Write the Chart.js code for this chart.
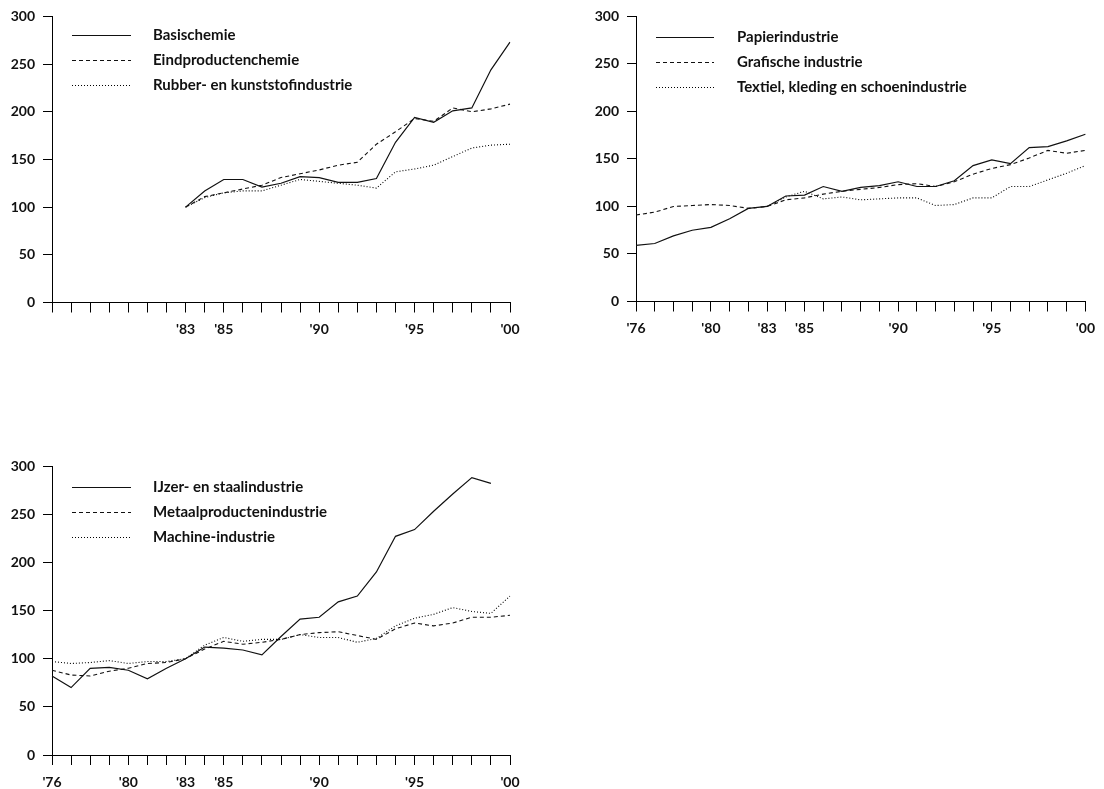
<!DOCTYPE html>
<html>
<head>
<meta charset="utf-8">
<script src="https://cdn.jsdelivr.net/npm/chart.js@4/dist/chart.umd.min.js"></script>
<style>
  html, body { margin: 0; padding: 0; background: #fff; }
  body { width: 1104px; height: 789px; position: relative; overflow: hidden; }
  canvas { position: absolute; }
</style>
</head>
<body>
<canvas id="chem" width="552" height="345" style="left:0;top:0"></canvas>
<canvas id="papier" width="544" height="345" style="left:560px;top:0"></canvas>
<canvas id="metaal" width="552" height="359" style="left:0;top:430px"></canvas>
<script>
// Index, 1983 = 100
const years = ["'76","'77","'78","'79","'80","'81","'82","'83","'84","'85","'86","'87","'88",
               "'89","'90","'91","'92","'93","'94","'95","'96","'97","'98","'99","'00"];
const labeledYearsChem = ["'83","'85","'90","'95","'00"];
const labeledYears = ["'76","'80","'83","'85","'90","'95","'00"];
const yTicks = [0, 50, 100, 150, 200, 250, 300];

// Chemie
const basischemie = [null,null,null,null,null,null,null,100,117,129,129,121,125,132,131,126,126,130,168,194,189,201,204,244,273];
const eindproductenchemie = [null,null,null,null,null,null,null,100,111,115,119,123,131,135,139,144,147,166,179,193,190,204,200,203,208];
const rubberKunststof = [null,null,null,null,null,null,null,100,110,115,117,117,123,129,127,125,123,120,137,140,144,153,162,165,166];

// Papier, grafisch, textiel
const papierindustrie = [59,61,69,75,78,87,98,100,111,112,121,116,120,122,126,121,121,127,143,149,145,162,163,169,176];
const grafischeIndustrie = [91,94,100,101,102,101,98,100,107,109,113,116,118,120,123,124,121,126,134,140,144,151,159,156,159];
const textielKleding = [null,null,null,null,null,null,null,100,110,116,108,110,107,108,109,109,101,102,109,109,121,121,128,135,143];

// Metaal
const ijzerStaal = [82,70,90,91,88,79,90,100,112,111,109,104,123,141,143,159,165,190,227,234,253,271,288,282,null];
const metaalproducten = [88,83,82,87,90,95,96,100,110,118,115,117,120,125,127,128,124,120,131,137,134,137,143,143,145];
const machineIndustrie = [97,95,96,98,95,97,97,100,114,122,118,120,120,125,122,122,117,121,134,142,146,153,149,147,165];

const INK = '#111';
const FONT = 'Lato, "Open Sans", sans-serif';

const lineStyles = [
  { borderDash: [], borderWidth: 1.2, borderColor: '#111' },
  { borderDash: [4, 3], borderWidth: 1.1, borderColor: '#111' },
  { borderDash: [1, 2], borderWidth: 1.1, borderColor: '#000' }
];

function series(labels, arrays) {
  return arrays.map((arr, i) => Object.assign({
    label: labels[i],
    data: arr,
    pointRadius: 0,
    pointHoverRadius: 0,
    tension: 0,
    fill: false
  }, lineStyles[i]));
}

// Legend drawn inside the plot: line sample + bold label per series
const insideLegend = {
  id: 'insideLegend',
  afterDatasetsDraw(chart, args, opts) {
    const ctx = chart.ctx;
    ctx.save();
    ctx.font = 'bold 15px ' + FONT;
    ctx.textBaseline = 'middle';
    ctx.textAlign = 'left';
    chart.data.datasets.forEach((ds, i) => {
      const y = Math.round(opts.y + i * opts.gap) + 0.5;
      ctx.beginPath();
      ctx.setLineDash(ds.borderDash || []);
      ctx.lineWidth = 1;
      ctx.strokeStyle = ds.borderColor;
      ctx.moveTo(opts.x, y);
      ctx.lineTo(opts.x + opts.len, y);
      ctx.stroke();
      ctx.setLineDash([]);
      ctx.fillStyle = INK;
      ctx.fillText(ds.label, opts.textX, y);
    });
    ctx.restore();
  }
};

function makeChart(id, datasets, shown, yWidth, xHeight, padding, legend) {
  return new Chart(document.getElementById(id), {
    type: 'line',
    data: { labels: years, datasets: datasets },
    options: {
      responsive: false,
      animation: false,
      events: [],
      layout: { padding: padding },
      plugins: {
        legend: { display: false },
        tooltip: { enabled: false },
        insideLegend: legend
      },
      scales: {
        x: {
          type: 'category',
          offset: false,
          grid: { display: true, drawOnChartArea: false, drawTicks: true, tickLength: 10, color: '#000', lineWidth: 1 },
          border: { display: true, color: '#000', width: 1 },
          ticks: {
            autoSkip: false, maxRotation: 0, minRotation: 0, padding: 9, color: INK,
            font: { family: FONT, weight: 'bold', size: 14 },
            callback(value) {
              const l = this.getLabelForValue(value);
              return shown.includes(l) ? l : '';
            }
          },
          afterFit(scale) { scale.height = xHeight; }
        },
        y: {
          min: 0, max: 300,
          afterBuildTicks(scale) { scale.ticks = yTicks.map(v => ({ value: v })); },
          grid: { display: true, drawOnChartArea: false, drawTicks: true, tickLength: 9, color: '#000', lineWidth: 1 },
          border: { display: true, color: '#000', width: 1 },
          ticks: { padding: 8, color: INK, font: { family: FONT, weight: 'bold', size: 14 } },
          afterFit(scale) { scale.width = yWidth; }
        }
      }
    },
    plugins: [insideLegend]
  });
}

makeChart('chem',
  series(['Basischemie', 'Eindproductenchemie', 'Rubber- en kunststofindustrie'],
         [basischemie, eindproductenchemie, rubberKunststof]),
  labeledYearsChem, 52, 36,
  { left: 0, top: 14, right: 42, bottom: 6.5 },
  { x: 72, len: 59, textX: 153, y: 35, gap: 25 });

makeChart('papier',
  series(['Papierindustrie', 'Grafische industrie', 'Textiel, kleding en schoenindustrie'],
         [papierindustrie, grafischeIndustrie, textielKleding]),
  labeledYears, 76, 36,
  { left: 0, top: 14, right: 13, bottom: 7.5 },
  { x: 96, len: 58, textX: 177, y: 37, gap: 25 });

makeChart('metaal',
  series(['IJzer- en staalindustrie', 'Metaalproductenindustrie', 'Machine-industrie'],
         [ijzerStaal, metaalproducten, machineIndustrie]),
  labeledYears, 52, 34,
  { left: 0, top: 36, right: 42, bottom: 0 },
  { x: 72, len: 59, textX: 153, y: 57, gap: 25 });
</script>
</body>
</html>
